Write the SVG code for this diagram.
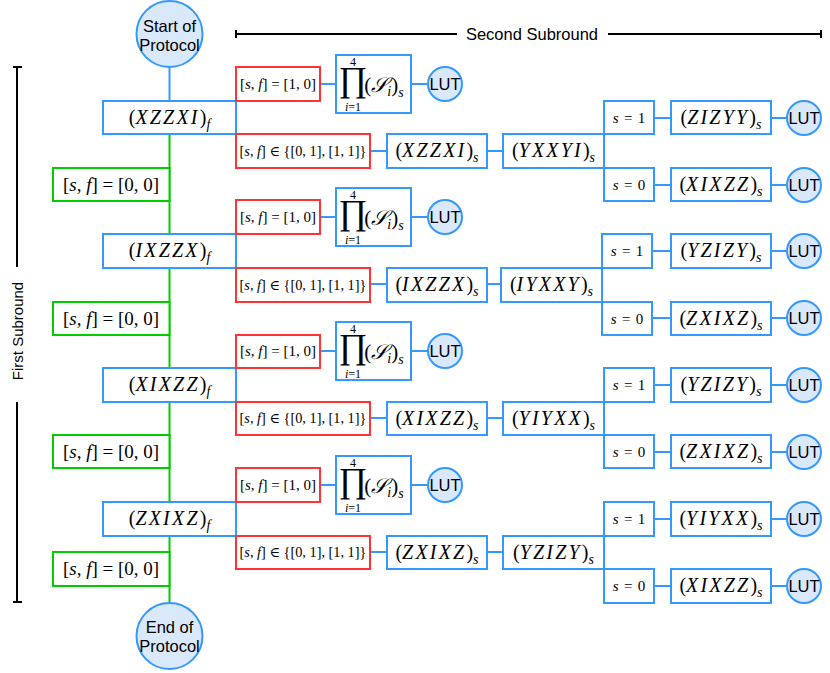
<svg xmlns="http://www.w3.org/2000/svg" width="830" height="673" viewBox="0 0 830 673">
<style>
.b{fill:#fff;stroke:#3399ff;stroke-width:2}
.r{fill:#fff;stroke:#ff3333;stroke-width:2}
.g{fill:#fff;stroke:#00cc00;stroke-width:2}
.c{fill:#dae8fc;stroke:#3399ff;stroke-width:2}
.lb{stroke:#3399ff;stroke-width:2;fill:none}
.lg{stroke:#00cc00;stroke-width:2;fill:none}
.k{stroke:#000;stroke-width:2;fill:none}
.sans{font-family:"Liberation Sans",Arial,sans-serif;font-size:16.5px;fill:#000;text-anchor:middle}
.m{font-family:"Liberation Serif","Times New Roman","DejaVu Serif",serif;fill:#000;text-anchor:middle}
.i{font-style:italic}
.p{font-size:20px}
.q{font-size:15px}
.q2{font-size:14.3px}
.ls{letter-spacing:2.2px}
.sq{font-size:15px;word-spacing:1.5px}
</style>
<defs>
<g id="prod">
<rect class="b" x="336" y="55" width="75" height="58"/>
<text class="m" x="353" y="91" font-size="35">∏</text>
<text class="m" x="353" y="66" font-size="12">4</text>
<text class="m" x="353" y="111" font-size="12"><tspan class="i">i</tspan>=1</text>
<text class="m" x="384" y="92" font-size="21">(<tspan class="i">𝒮</tspan><tspan class="i" font-size="14" dy="4">i</tspan><tspan dy="-4">)</tspan><tspan class="i" font-size="14" dy="5">s</tspan></text>
</g>
</defs>

<g id="axes">
<path class="k" d="M236 34H457M608 34H821M236 30V38M821 30V38"/>
<text class="sans" x="532" y="40">Second Subround</text>
<path class="k" d="M17 67V267M17 402V602M13 67H22M13 602H22"/>
<text class="sans" transform="translate(23,331) rotate(-90)" style="font-size:15px">First Subround</text>
</g>

<g id="connectors">
<path class="lb" d="M169.5 67V101"/>
<path class="lg" d="M169.5 134V234M169.5 268V368M169.5 402V502M169.5 536V603"/>
<path class="lb" d="M320 84H336M411 84H428M370 151H387M487 151H503M654 118H671M771 118H787M654 185H671M771 185H787"/>
<path class="lb" d="M320 217H336M411 217H428M370 284H387M487 284H501M652 251H671M771 251H787M652 318H671M771 318H787"/>
<path class="lb" d="M320 351H336M411 351H428M370 418H387M487 418H503M654 385H671M771 385H787M654 452H671M771 452H787"/>
<path class="lb" d="M320 485H336M411 485H428M370 552H387M487 552H503M654 519H671M771 519H787M654 586H671M771 586H787"/>
</g>

<g id="start"><circle class="c" cx="169.5" cy="34" r="33"/><text class="sans" x="169.5" y="31.5">Start of</text><text class="sans" x="169.5" y="51">Protocol</text></g>
<g id="end"><circle class="c" cx="169.5" cy="636" r="33"/><text class="sans" x="169.5" y="633">End of</text><text class="sans" x="169.5" y="652">Protocol</text></g>

<!-- Block 1 -->
<g id="f1"><rect class="b" x="103" y="101" width="133" height="33"/><text class="m p" x="169.5" y="124">(<tspan class="i ls">XZZXI</tspan>)<tspan class="i" font-size="14" dy="5">f</tspan></text></g>
<g id="g1"><rect class="g" x="53" y="168" width="116.5" height="33"/><text class="m" font-size="19" x="111" y="191">[<tspan class="i">s</tspan>, <tspan class="i">f</tspan>] = [0, 0]</text></g>
<g id="r1a"><rect class="r" x="236" y="67" width="84" height="34"/><text class="m q" x="278" y="89">[<tspan class="i">s</tspan>, <tspan class="i">f</tspan>] = [1, 0]</text></g>
<g id="r1b"><rect class="r" x="236" y="134" width="134" height="34"/><text class="m q2" x="303" y="156">[<tspan class="i">s</tspan>, <tspan class="i">f</tspan>] ∈ {[0, 1], [1, 1]}</text></g>
<g id="p1"><use href="#prod"/></g>
<g id="lut1"><circle class="c" cx="445" cy="84" r="17"/><text class="sans" x="445" y="90">LUT</text></g>
<g id="s1a"><rect class="b" x="387" y="134" width="100" height="34"/><text class="m p" x="437" y="157">(<tspan class="i ls">XZZXI</tspan>)<tspan class="i" font-size="14" dy="5">s</tspan></text></g>
<g id="s1b"><rect class="b" x="503" y="134" width="101" height="34"/><text class="m p" x="553.5" y="157">(<tspan class="i ls">YXXYI</tspan>)<tspan class="i" font-size="14" dy="5">s</tspan></text></g>
<g id="c1a"><rect class="b" x="604" y="101" width="50" height="33"/><text class="m sq" x="629" y="123"><tspan class="i">s</tspan> = 1</text></g>
<g id="c1b"><rect class="b" x="604" y="168" width="50" height="33"/><text class="m sq" x="629" y="190"><tspan class="i">s</tspan> = 0</text></g>
<g id="t1a"><rect class="b" x="671" y="101" width="100" height="33"/><text class="m p" x="721" y="124">(<tspan class="i ls">ZIZYY</tspan>)<tspan class="i" font-size="14" dy="5">s</tspan></text></g>
<g id="t1b"><rect class="b" x="671" y="168" width="100" height="33"/><text class="m p" x="721" y="191">(<tspan class="i ls">XIXZZ</tspan>)<tspan class="i" font-size="14" dy="5">s</tspan></text></g>
<g id="l1a"><circle class="c" cx="804" cy="118" r="17"/><text class="sans" x="804" y="124">LUT</text></g>
<g id="l1b"><circle class="c" cx="804" cy="185" r="17"/><text class="sans" x="804" y="191">LUT</text></g>

<!-- Block 2 -->
<g id="f2"><rect class="b" x="103" y="234" width="133" height="34"/><text class="m p" x="169.5" y="257">(<tspan class="i ls">IXZZX</tspan>)<tspan class="i" font-size="14" dy="5">f</tspan></text></g>
<g id="g2"><rect class="g" x="53" y="302" width="116.5" height="33"/><text class="m" font-size="19" x="111" y="325">[<tspan class="i">s</tspan>, <tspan class="i">f</tspan>] = [0, 0]</text></g>
<g id="r2a"><rect class="r" x="236" y="200" width="84" height="34"/><text class="m q" x="278" y="222">[<tspan class="i">s</tspan>, <tspan class="i">f</tspan>] = [1, 0]</text></g>
<g id="r2b"><rect class="r" x="236" y="268" width="134" height="34"/><text class="m q2" x="303" y="290">[<tspan class="i">s</tspan>, <tspan class="i">f</tspan>] ∈ {[0, 1], [1, 1]}</text></g>
<g id="p2"><use href="#prod" y="133"/></g>
<g id="lut2"><circle class="c" cx="445" cy="217" r="17"/><text class="sans" x="445" y="223">LUT</text></g>
<g id="s2a"><rect class="b" x="387" y="268" width="100" height="34"/><text class="m p" x="437" y="291">(<tspan class="i ls">IXZZX</tspan>)<tspan class="i" font-size="14" dy="5">s</tspan></text></g>
<g id="s2b"><rect class="b" x="501" y="268" width="101" height="34"/><text class="m p" x="551.5" y="291">(<tspan class="i ls">IYXXY</tspan>)<tspan class="i" font-size="14" dy="5">s</tspan></text></g>
<g id="c2a"><rect class="b" x="602" y="234" width="50" height="34"/><text class="m sq" x="627" y="256"><tspan class="i">s</tspan> = 1</text></g>
<g id="c2b"><rect class="b" x="602" y="302" width="50" height="33"/><text class="m sq" x="627" y="324"><tspan class="i">s</tspan> = 0</text></g>
<g id="t2a"><rect class="b" x="671" y="234" width="100" height="34"/><text class="m p" x="721" y="257">(<tspan class="i ls">YZIZY</tspan>)<tspan class="i" font-size="14" dy="5">s</tspan></text></g>
<g id="t2b"><rect class="b" x="671" y="302" width="100" height="33"/><text class="m p" x="721" y="325">(<tspan class="i ls">ZXIXZ</tspan>)<tspan class="i" font-size="14" dy="5">s</tspan></text></g>
<g id="l2a"><circle class="c" cx="804" cy="251" r="17"/><text class="sans" x="804" y="257">LUT</text></g>
<g id="l2b"><circle class="c" cx="804" cy="318" r="17"/><text class="sans" x="804" y="324">LUT</text></g>

<!-- Block 3 -->
<g id="f3"><rect class="b" x="103" y="368" width="133" height="34"/><text class="m p" x="169.5" y="391">(<tspan class="i ls">XIXZZ</tspan>)<tspan class="i" font-size="14" dy="5">f</tspan></text></g>
<g id="g3"><rect class="g" x="53" y="435" width="116.5" height="33"/><text class="m" font-size="19" x="111" y="458">[<tspan class="i">s</tspan>, <tspan class="i">f</tspan>] = [0, 0]</text></g>
<g id="r3a"><rect class="r" x="236" y="335" width="84" height="33"/><text class="m q" x="278" y="356">[<tspan class="i">s</tspan>, <tspan class="i">f</tspan>] = [1, 0]</text></g>
<g id="r3b"><rect class="r" x="236" y="402" width="134" height="33"/><text class="m q2" x="303" y="423">[<tspan class="i">s</tspan>, <tspan class="i">f</tspan>] ∈ {[0, 1], [1, 1]}</text></g>
<g id="p3"><use href="#prod" y="267"/></g>
<g id="lut3"><circle class="c" cx="445" cy="351" r="17"/><text class="sans" x="445" y="357">LUT</text></g>
<g id="s3a"><rect class="b" x="387" y="402" width="100" height="33"/><text class="m p" x="437" y="425">(<tspan class="i ls">XIXZZ</tspan>)<tspan class="i" font-size="14" dy="5">s</tspan></text></g>
<g id="s3b"><rect class="b" x="503" y="402" width="101" height="33"/><text class="m p" x="553.5" y="425">(<tspan class="i ls">YIYXX</tspan>)<tspan class="i" font-size="14" dy="5">s</tspan></text></g>
<g id="c3a"><rect class="b" x="604" y="368" width="50" height="34"/><text class="m sq" x="629" y="390"><tspan class="i">s</tspan> = 1</text></g>
<g id="c3b"><rect class="b" x="604" y="435" width="50" height="33"/><text class="m sq" x="629" y="457"><tspan class="i">s</tspan> = 0</text></g>
<g id="t3a"><rect class="b" x="671" y="368" width="100" height="34"/><text class="m p" x="721" y="391">(<tspan class="i ls">YZIZY</tspan>)<tspan class="i" font-size="14" dy="5">s</tspan></text></g>
<g id="t3b"><rect class="b" x="671" y="435" width="100" height="33"/><text class="m p" x="721" y="458">(<tspan class="i ls">ZXIXZ</tspan>)<tspan class="i" font-size="14" dy="5">s</tspan></text></g>
<g id="l3a"><circle class="c" cx="804" cy="385" r="17"/><text class="sans" x="804" y="391">LUT</text></g>
<g id="l3b"><circle class="c" cx="804" cy="452" r="17"/><text class="sans" x="804" y="458">LUT</text></g>

<!-- Block 4 -->
<g id="f4"><rect class="b" x="103" y="502" width="133" height="34"/><text class="m p" x="169.5" y="525">(<tspan class="i ls">ZXIXZ</tspan>)<tspan class="i" font-size="14" dy="5">f</tspan></text></g>
<g id="g4"><rect class="g" x="53" y="552" width="116.5" height="34"/><text class="m" font-size="19" x="111" y="575">[<tspan class="i">s</tspan>, <tspan class="i">f</tspan>] = [0, 0]</text></g>
<g id="r4a"><rect class="r" x="236" y="468" width="84" height="34"/><text class="m q" x="278" y="490">[<tspan class="i">s</tspan>, <tspan class="i">f</tspan>] = [1, 0]</text></g>
<g id="r4b"><rect class="r" x="236" y="536" width="134" height="33"/><text class="m q2" x="303" y="557">[<tspan class="i">s</tspan>, <tspan class="i">f</tspan>] ∈ {[0, 1], [1, 1]}</text></g>
<g id="p4"><use href="#prod" y="401"/></g>
<g id="lut4"><circle class="c" cx="445" cy="485" r="17"/><text class="sans" x="445" y="491">LUT</text></g>
<g id="s4a"><rect class="b" x="387" y="536" width="100" height="33"/><text class="m p" x="437" y="559">(<tspan class="i ls">ZXIXZ</tspan>)<tspan class="i" font-size="14" dy="5">s</tspan></text></g>
<g id="s4b"><rect class="b" x="503" y="536" width="101" height="33"/><text class="m p" x="553.5" y="559">(<tspan class="i ls">YZIZY</tspan>)<tspan class="i" font-size="14" dy="5">s</tspan></text></g>
<g id="c4a"><rect class="b" x="604" y="502" width="50" height="34"/><text class="m sq" x="629" y="524"><tspan class="i">s</tspan> = 1</text></g>
<g id="c4b"><rect class="b" x="604" y="569" width="50" height="34"/><text class="m sq" x="629" y="591"><tspan class="i">s</tspan> = 0</text></g>
<g id="t4a"><rect class="b" x="671" y="502" width="100" height="34"/><text class="m p" x="721" y="525">(<tspan class="i ls">YIYXX</tspan>)<tspan class="i" font-size="14" dy="5">s</tspan></text></g>
<g id="t4b"><rect class="b" x="671" y="569" width="100" height="34"/><text class="m p" x="721" y="592">(<tspan class="i ls">XIXZZ</tspan>)<tspan class="i" font-size="14" dy="5">s</tspan></text></g>
<g id="l4a"><circle class="c" cx="804" cy="519" r="17"/><text class="sans" x="804" y="525">LUT</text></g>
<g id="l4b"><circle class="c" cx="804" cy="586" r="17"/><text class="sans" x="804" y="592">LUT</text></g>
</svg>
